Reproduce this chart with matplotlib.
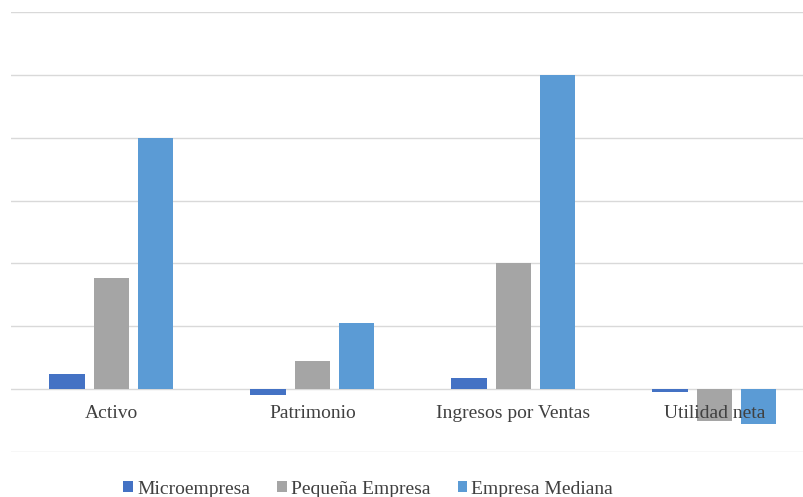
import numpy as np
import matplotlib.pyplot as plt

categorias = ["Activo", "Patrimonio", "Ingresos por Ventas", "Utilidad neta"]
series = ["Microempresa", "Pequeña Empresa", "Empresa Mediana"]
micro = [0.24, -0.10, 0.18, -0.05]
pequena = [1.76, 0.45, 2.0, -0.50]
mediana = [4.0, 1.05, 5.0, -0.56]
colores = ["#4472C4", "#A5A5A5", "#5B9BD5"]

plt.rcParams["font.family"] = ["Liberation Serif", "DejaVu Serif"]

fig = plt.figure(figsize=(8.04, 4.97), dpi=100)
ax = fig.add_axes([0.0135, 0.0905, 1.0, 0.8855])

x = np.arange(len(categorias))
w = 0.176
paso = 0.221
for i, (vals, col) in enumerate(zip([micro, pequena, mediana], colores)):
    ax.bar(x + (i - 1) * paso, vals, width=w, color=col, label=series[i], zorder=3)

ax.set_xlim(-0.5, 3.5)
ax.set_ylim(-1, 6)
ax.set_yticks(range(-1, 7))
ax.yaxis.grid(True, color="#d9d9d9", lw=1, zorder=0)
ax.tick_params(left=False, labelleft=False, bottom=False)
ax.set_xticks(x)
ax.set_xticklabels([])
for xi, c in zip(x, categorias):
    ax.text(xi, -0.25, c, ha="center", va="top", fontsize=14, color="#404040", zorder=5)
for s in ax.spines.values():
    s.set_visible(False)

fig.legend(loc="center", bbox_to_anchor=(0.458, 0.016), ncol=3, frameon=False,
           fontsize=14, handlelength=0.5, handleheight=0.5, handletextpad=0.2,
           columnspacing=1.4, labelcolor="#404040")

plt.savefig("out.png", dpi=100)
